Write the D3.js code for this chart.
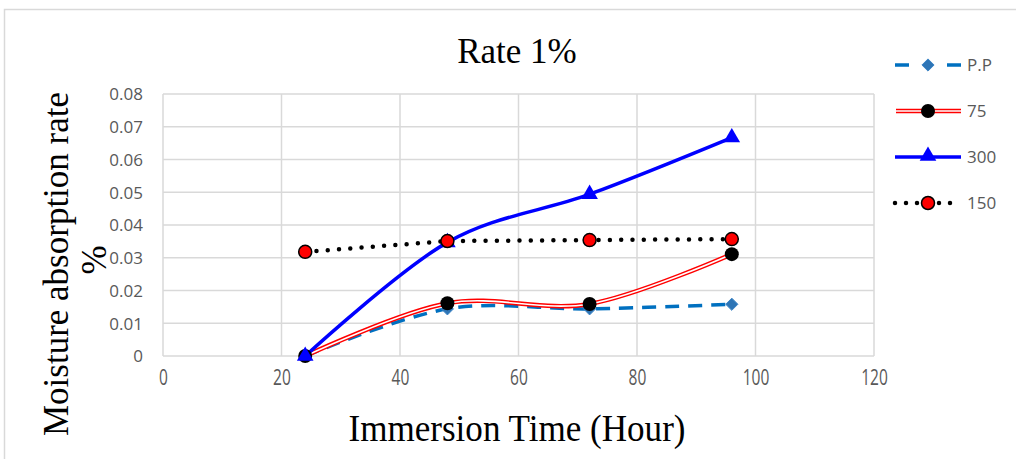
<!DOCTYPE html>
<html>
<head>
<meta charset="utf-8">
<script src="https://cdn.jsdelivr.net/npm/d3@7"></script>
<style>
  body { margin: 0; background: #fff; }
  .tick text { fill: #595959; }
</style>
</head>
<body>
<svg id="chart" width="1016" height="459"></svg>
<script>
// data
var hours = [24, 48, 72, 96];
var pp = [0, 0.0144, 0.0144, 0.0158];
var s75 = [0, 0.0161, 0.0159, 0.0311];
var s300 = [0, 0.0347, 0.0494, 0.0667];
var s150 = [0.0318, 0.0351, 0.0354, 0.0357];
var xTicks = [0, 20, 40, 60, 80, 100, 120];
var yTicks = [0, 0.01, 0.02, 0.03, 0.04, 0.05, 0.06, 0.07, 0.08];
var legendNames = ["P.P", "75", "300", "150"];

var svg = d3.select("#chart");

// outer chart border (runs off the right/bottom)
svg.append("rect")
    .attr("x", 4.5).attr("y", 9.5)
    .attr("width", 1030).attr("height", 470)
    .attr("fill", "none").attr("stroke", "#d9d9d9").attr("stroke-width", 1.5);

var margin = {left: 163, top: 94, right: 874, bottom: 356};

var x = d3.scaleLinear().domain([0, 120]).range([margin.left, margin.right]);
var y = d3.scaleLinear().domain([0, 0.08]).range([margin.bottom, margin.top]);

// grid
svg.append("g").selectAll("line.v").data(xTicks).enter().append("line")
    .attr("x1", function (d) { return x(d); }).attr("x2", function (d) { return x(d); })
    .attr("y1", margin.top).attr("y2", margin.bottom)
    .attr("stroke", "#d9d9d9").attr("stroke-width", 1.5);
svg.append("g").selectAll("line.h").data(yTicks).enter().append("line")
    .attr("x1", margin.left).attr("x2", margin.right)
    .attr("y1", function (d) { return y(d); }).attr("y2", function (d) { return y(d); })
    .attr("stroke", "#d9d9d9").attr("stroke-width", 1.5);

// axes: labels only
var yAxis = svg.append("g")
    .attr("transform", "translate(" + (margin.left - 20) + ",0)")
    .call(d3.axisLeft(y).tickValues(yTicks).tickSize(0).tickFormat(function (d) { return d === 0 ? "0" : d3.format(".2f")(d); }));
yAxis.select(".domain").remove();
yAxis.selectAll("text")
    .attr("font-family", "Open Sans, sans-serif").attr("font-size", 17).attr("dy", "0.34em").attr("x", 0);

var xAxis = svg.append("g")
    .attr("font-size", 21)
    .attr("transform", "translate(0," + (margin.bottom + 22) + ")")
    .call(d3.axisBottom(x).tickValues(xTicks).tickSize(0));
xAxis.attr("font-size", 21);
xAxis.select(".domain").remove();
// condensed labels like the original
xAxis.selectAll("text")
    .attr("font-family", "Open Sans, sans-serif").style("font-size", "21px")
    .attr("transform", "scale(0.74,1)")
    .attr("x", 0).attr("y", 0).attr("dy", "0.35em");

// titles
svg.append("text").attr("x", 517).attr("y", 63).attr("text-anchor", "middle")
    .attr("font-family", "Liberation Serif, serif").attr("font-size", 35).text("Rate 1%");
svg.append("text").attr("x", 517).attr("y", 441).attr("text-anchor", "middle")
    .attr("font-family", "Liberation Serif, serif").attr("font-size", 38)
    .attr("textLength", 337).attr("lengthAdjust", "spacingAndGlyphs")
    .text("Immersion Time (Hour)");
svg.append("text").attr("transform", "translate(68,264) rotate(-90)").attr("text-anchor", "middle")
    .attr("font-family", "Liberation Serif, serif").attr("font-size", 35).text("Moisture absorption rate");
svg.append("text").attr("transform", "translate(106,260) rotate(-90)").attr("text-anchor", "middle")
    .attr("font-family", "Liberation Serif, serif").attr("font-size", 35).text("%");

// series
var smooth = d3.line()
    .x(function (d, i) { return x(hours[i]); })
    .y(function (d) { return y(d); })
    .curve(d3.curveCardinal.tension(0));
var straight = d3.line()
    .x(function (d, i) { return x(hours[i]); })
    .y(function (d) { return y(d); });

// P.P dashed smooth
svg.append("path").attr("d", smooth(pp)).attr("fill", "none")
    .attr("stroke", "#0070c0").attr("stroke-width", 3.5).attr("stroke-dasharray", "14,9");
// 75 double red line
svg.append("path").attr("d", smooth(s75)).attr("fill", "none")
    .attr("stroke", "#ff0000").attr("stroke-width", 4.5);
svg.append("path").attr("d", smooth(s75)).attr("fill", "none")
    .attr("stroke", "#fff").attr("stroke-width", 1.6);
// 300 blue
svg.append("path").attr("d", smooth(s300)).attr("fill", "none")
    .attr("stroke", "#0000ff").attr("stroke-width", 3.5);
// 150 dotted
svg.append("path").attr("d", straight(s150)).attr("fill", "none")
    .attr("stroke", "#000").attr("stroke-width", 4.5)
    .attr("stroke-linecap", "round").attr("stroke-dasharray", "0,11.3");

// markers
function diamond(g, cx, cy) {
    g.append("path").attr("d", d3.symbol().type(d3.symbolDiamond2).size(95)())
        .attr("transform", "translate(" + cx + "," + cy + ")")
        .attr("fill", "#2e75b6").attr("stroke", "#3d85c6").attr("stroke-width", 1);
}
function blackDot(g, cx, cy) {
    g.append("circle").attr("cx", cx).attr("cy", cy).attr("r", 7).attr("fill", "#000");
}
function triangle(g, cx, cy) {
    g.append("path").attr("d", d3.symbol().type(d3.symbolTriangle).size(120)())
        .attr("transform", "translate(" + cx + "," + cy + ")").attr("fill", "#0000ff");
}
function redDot(g, cx, cy) {
    g.append("circle").attr("cx", cx).attr("cy", cy).attr("r", 6.5)
        .attr("fill", "#ff0000").attr("stroke", "#000").attr("stroke-width", 1.5);
}

var mk = svg.append("g");
pp.forEach(function (d, i) { diamond(mk, x(hours[i]), y(d)); });
s75.forEach(function (d, i) { blackDot(mk, x(hours[i]), y(d)); });
s300.forEach(function (d, i) { triangle(mk, x(hours[i]), y(d)); });
s150.forEach(function (d, i) { redDot(mk, x(hours[i]), y(d)); });

// legend
var legY = d3.scalePoint().domain(legendNames).range([65, 203]);
var lg = svg.append("g");
legendNames.forEach(function (name) {
    var ly = legY(name);
    if (name === "P.P") {
        lg.append("line").attr("x1", 895).attr("x2", 961).attr("y1", ly).attr("y2", ly)
            .attr("stroke", "#0070c0").attr("stroke-width", 3.5).attr("stroke-dasharray", "14,38");
        diamond(lg, 928, ly);
    } else if (name === "75") {
        lg.append("line").attr("x1", 896).attr("x2", 961).attr("y1", ly).attr("y2", ly)
            .attr("stroke", "#ff0000").attr("stroke-width", 4.5);
        lg.append("line").attr("x1", 896).attr("x2", 961).attr("y1", ly).attr("y2", ly)
            .attr("stroke", "#fff").attr("stroke-width", 1.6);
        blackDot(lg, 928, ly);
    } else if (name === "300") {
        lg.append("line").attr("x1", 895).attr("x2", 961).attr("y1", ly).attr("y2", ly)
            .attr("stroke", "#0000ff").attr("stroke-width", 3.5);
        triangle(lg, 928, ly - 1);
    } else {
        lg.append("line").attr("x1", 895).attr("x2", 961).attr("y1", ly).attr("y2", ly)
            .attr("stroke", "#000").attr("stroke-width", 4.5)
            .attr("stroke-linecap", "round").attr("stroke-dasharray", "0,11");
        redDot(lg, 928, ly);
    }
    lg.append("text").attr("x", 967).attr("y", ly).attr("dy", "0.35em")
        .attr("font-family", "Open Sans, sans-serif").attr("font-size", 17)
        .attr("fill", "#595959").text(name);
});
</script>
</body>
</html>
